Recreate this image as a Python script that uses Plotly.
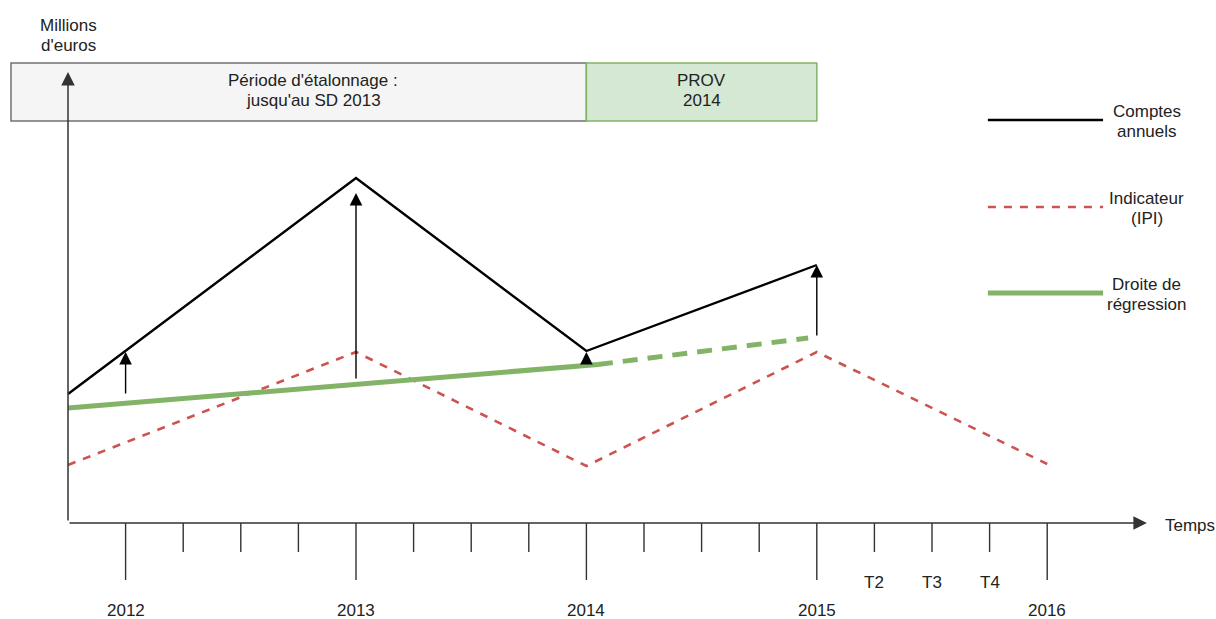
import plotly.graph_objects as go

# ---------------- data ----------------
quarter_pos = list(range(1, 18))
quarter_labels = ["2012", "", "", "", "2013", "", "", "", "2014", "", "", "",
                  "2015", "T2", "T3", "T4", "2016"]

comptes_x = [0, 5, 9, 13]
comptes_y = [12.8, 34.4, 17.1, 25.7]

ipi_x = [0, 5, 9, 13, 17]
ipi_y = [5.7, 17.0, 5.6, 17.0, 5.8]

reg_fit_x = [0, 9.2]
reg_fit_y = [11.4, 15.75]
reg_proj_x = [9.2, 12.85]
reg_proj_y = [15.75, 18.4]

gap_x = [1, 5, 9, 13]
gap_from = [12.7, 14.2, 15.7, 18.5]
gap_to = [17.0, 32.9, 17.0, 25.7]

period_labels = ["Période d'étalonnage :\njusqu'au SD 2013", "PROV\n2014"]
period_bounds = [(-0.99, 9.0), (9.0, 13.0)]

legend_names = ["Comptes\nannuels", "Indicateur\n(IPI)", "Droite de\nrégression"]

# ---------------- style ----------------
FONT = "Liberation Sans, Arial, Helvetica, sans-serif"
FS = 17
TXT = "#222222"
AX = "#333333"
RED = "#cc5350"
GREEN = "#82b366"

fig = go.Figure()

fig.add_trace(go.Scatter(x=comptes_x, y=comptes_y, mode="lines",
                         line=dict(color="black", width=2.4), hoverinfo="skip"))
fig.add_trace(go.Scatter(x=ipi_x, y=ipi_y, mode="lines",
                         line=dict(color=RED, width=2.6, dash="8px,8px"), hoverinfo="skip"))
fig.add_trace(go.Scatter(x=reg_fit_x, y=reg_fit_y, mode="lines",
                         line=dict(color=GREEN, width=5), hoverinfo="skip"))
fig.add_trace(go.Scatter(x=reg_proj_x, y=reg_proj_y, mode="lines",
                         line=dict(color=GREEN, width=5, dash="15px,10px"), hoverinfo="skip"))

shapes = []
annotations = []

# period boxes
fills = [("#f5f5f5", "#707070"), ("#d5e8d4", GREEN)]
for (x0, x1), lab, (fc, lc) in zip(period_bounds, period_labels, fills):
    shapes.append(dict(type="rect", xref="x", yref="y", x0=x0, x1=x1, y0=40.1, y1=45.9,
                       fillcolor=fc, line=dict(color=lc, width=1.5), layer="below"))
    lines = lab.split("\n")
    cx = (x0 + x1) / 2 + (0.25 if x0 < 0 else 0)
    for i, t in enumerate(lines):
        annotations.append(dict(x=cx, y=44.15 - i * 2.0, xref="x", yref="y", text=t,
                                showarrow=False, font=dict(family=FONT, size=FS, color=TXT)))

# axes as arrows
annotations.append(dict(x=0, y=45.0, ax=0, ay=0, xref="x", yref="y", axref="x", ayref="y",
                        text="", showarrow=True, arrowhead=2, arrowsize=1.8, arrowwidth=1.5,
                        arrowcolor=AX, standoff=0))
annotations.append(dict(x=18.73, y=-0.1, ax=0, ay=-0.1, xref="x", yref="y", axref="x", ayref="y",
                        text="", showarrow=True, arrowhead=2, arrowsize=1.8, arrowwidth=1.5,
                        arrowcolor=AX, standoff=0))
annotations.append(dict(x=19.48, y=-0.3, xref="x", yref="y", text="Temps", showarrow=False,
                        font=dict(family=FONT, size=FS, color=TXT)))
annotations.append(dict(x=0, y=49.7, xref="x", yref="y", text="Millions", showarrow=False,
                        font=dict(family=FONT, size=FS, color=TXT)))
annotations.append(dict(x=0, y=47.7, xref="x", yref="y", text="d'euros", showarrow=False,
                        font=dict(family=FONT, size=FS, color=TXT)))

# ticks and tick labels
for q, lab in zip(quarter_pos, quarter_labels):
    is_year = lab.startswith("20")
    shapes.append(dict(type="line", xref="x", yref="y", x0=q, x1=q, y0=-0.1,
                       y1=-5.8 if is_year else -3.0, line=dict(color=AX, width=1.4)))
    if lab:
        annotations.append(dict(x=q, y=-8.8 if is_year else -6.0, xref="x", yref="y", text=lab,
                                showarrow=False, font=dict(family=FONT, size=FS, color=TXT)))

# gap arrows
for gx, g0, g1 in zip(gap_x, gap_from, gap_to):
    annotations.append(dict(x=gx, y=g1, ax=gx, ay=g0, xref="x", yref="y", axref="x", ayref="y",
                            text="", showarrow=True, arrowhead=2, arrowsize=1.8, arrowwidth=1.4,
                            arrowcolor="black", standoff=0))

# legend (drawn manually)
leg_y = [40.2, 31.5, 22.9]
leg_style = [dict(color="black", width=2.4), dict(color=RED, width=2.6, dash="8px,8px"),
             dict(color=GREEN, width=5)]
for name, ly, st in zip(legend_names, leg_y, leg_style):
    shapes.append(dict(type="line", xref="x", yref="y", x0=15.97, x1=17.97, y0=ly, y1=ly, line=st))
    for i, t in enumerate(name.split("\n")):
        annotations.append(dict(x=18.73, y=ly + 0.9 - i * 2.0, xref="x", yref="y", text=t,
                                showarrow=False, font=dict(family=FONT, size=FS, color=TXT)))

fig.update_layout(
    width=1216, height=619,
    margin=dict(l=0, r=0, t=0, b=0),
    paper_bgcolor="white", plot_bgcolor="white",
    showlegend=False,
    xaxis=dict(range=[-68 / 57.6, (1216 - 68) / 57.6], visible=False, fixedrange=True),
    yaxis=dict(range=[-9.7, 52.2], visible=False, fixedrange=True),
    shapes=shapes, annotations=annotations,
    font=dict(family=FONT, size=FS, color=TXT),
)

fig.write_html("out.html", config={"displayModeBar": False},
               post_script="document.body.style.margin='0';document.body.style.overflow='hidden';")
